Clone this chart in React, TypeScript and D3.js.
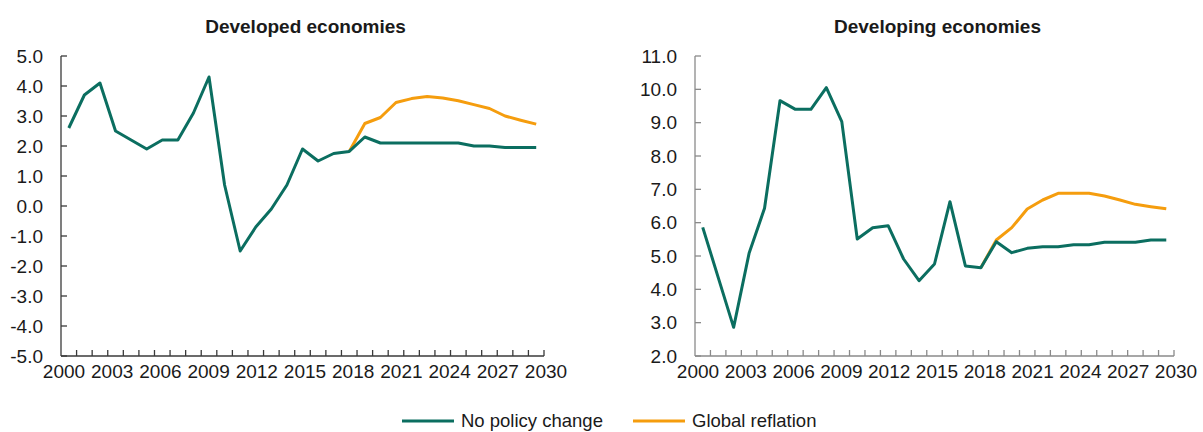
import React, { useEffect, useRef } from "react";
import * as d3 from "d3";

const years: number[] = d3.range(2000, 2031);
const tickYears: number[] = [2000, 2003, 2006, 2009, 2012, 2015, 2018, 2021, 2024, 2027, 2030];

const developedNoPolicy: number[] = [2.6, 3.7, 4.1, 2.5, 2.2, 1.9, 2.2, 2.2, 3.1, 4.3, 0.7, -1.5, -0.7, -0.1, 0.7, 1.9, 1.5, 1.75, 1.82, 2.3, 2.1, 2.1, 2.1, 2.1, 2.1, 2.1, 2.0, 2.0, 1.95, 1.95, 1.95];
const developedReflation: (number | null)[] = [null, null, null, null, null, null, null, null, null, null, null, null, null, null, null, null, null, null, 1.82, 2.75, 2.95, 3.45, 3.58, 3.65, 3.6, 3.51, 3.38, 3.25, 3.0, 2.86, 2.73];

const developingNoPolicy: number[] = [5.86, 4.36, 2.86, 5.08, 6.43, 9.66, 9.4, 9.4, 10.05, 9.03, 5.51, 5.85, 5.91, 4.91, 4.26, 4.76, 6.63, 4.7, 4.65, 5.43, 5.1, 5.23, 5.28, 5.28, 5.34, 5.34, 5.41, 5.41, 5.41, 5.48, 5.48];
const developingReflation: (number | null)[] = [null, null, null, null, null, null, null, null, null, null, null, null, null, null, null, null, null, null, 4.65, 5.48, 5.85, 6.41, 6.68, 6.88, 6.88, 6.88, 6.8, 6.68, 6.55, 6.48, 6.42];

const developedTicks: number[] = [-5, -4, -3, -2, -1, 0, 1, 2, 3, 4, 5];
const developingTicks: number[] = [2, 3, 4, 5, 6, 7, 8, 9, 10, 11];

const seriesNames: string[] = ["No policy change", "Global reflation"];
const TEAL = "#0b6e60";
const ORANGE = "#f59d0e";
const FONT = "'Liberation Sans', Arial, sans-serif";

export default function App() {
  const ref = useRef<SVGSVGElement>(null);

  useEffect(() => {
    document.body.style.margin = "0";
    const svg = d3.select(ref.current);
    svg.selectAll("*").remove();

    const panels = [
      { title: "Developed economies", x0: 61, x1: 544, domain: [-5, 5], ticks: developedTicks, noPolicy: developedNoPolicy, reflation: developedReflation, axisColor: "#3a3a3a" },
      { title: "Developing economies", x0: 695, x1: 1174, domain: [2, 11], ticks: developingTicks, noPolicy: developingNoPolicy, reflation: developingReflation, axisColor: "#8a8a8a" },
    ];
    const yTop = 56;
    const yBottom = 356;

    panels.forEach((p) => {
      const g = svg.append("g");
      const x = d3.scaleBand<number>().domain(years).range([p.x0, p.x1]);
      const labelX = d3.scaleLinear().domain([2000, 2030]).range([p.x0 + 3, p.x1 + 2]);
      const y = d3.scaleLinear().domain(p.domain).range([yBottom, yTop]);
      const cx = (yr: number) => (x(yr) as number) + x.bandwidth() / 2;

      // title
      g.append("text")
        .attr("x", (p.x0 + p.x1) / 2 + 3)
        .attr("y", 33)
        .attr("text-anchor", "middle")
        .attr("font-family", FONT)
        .attr("font-weight", "bold")
        .attr("font-size", 19)
        .attr("fill", "#1a1a1a")
        .text(p.title);

      // y axis
      g.append("line")
        .attr("x1", p.x0).attr("x2", p.x0)
        .attr("y1", y(p.domain[1])).attr("y2", y(p.domain[0]))
        .attr("stroke", p.axisColor).attr("stroke-width", 1.3);
      p.ticks.forEach((t) => {
        g.append("line")
          .attr("x1", p.x0).attr("x2", p.x0 + 6)
          .attr("y1", y(t)).attr("y2", y(t))
          .attr("stroke", p.axisColor).attr("stroke-width", 1.3);
        g.append("text")
          .attr("x", p.x0 - 18)
          .attr("y", y(t))
          .attr("dy", "0.35em")
          .attr("text-anchor", "end")
          .attr("font-family", FONT)
          .attr("font-size", 19)
          .attr("fill", "#1a1a1a")
          .text(d3.format(".1f")(t).replace("−", "-"));
      });

      // x axis
      g.append("line")
        .attr("x1", p.x0).attr("x2", p.x1)
        .attr("y1", yBottom).attr("y2", yBottom)
        .attr("stroke", p.axisColor).attr("stroke-width", 1.3);
      years.forEach((yr) => {
        const bx = (x(yr) as number) + x.bandwidth();
        g.append("line")
          .attr("x1", bx).attr("x2", bx)
          .attr("y1", yBottom).attr("y2", yBottom - 6)
          .attr("stroke", p.axisColor).attr("stroke-width", 1.3);
      });
      tickYears.forEach((yr) => {
        g.append("text")
          .attr("x", labelX(yr))
          .attr("y", yBottom + 21.5)
          .attr("text-anchor", "middle")
          .attr("font-family", FONT)
          .attr("font-size", 19)
          .attr("fill", "#1a1a1a")
          .text(String(yr));
      });

      const line = d3.line<number | null>()
        .defined((d) => d !== null)
        .x((_d, i) => cx(years[i]))
        .y((d) => y(d as number));

      g.append("path")
        .attr("d", line(p.reflation))
        .attr("fill", "none")
        .attr("stroke", ORANGE)
        .attr("stroke-width", 3)
        .attr("stroke-linejoin", "round");
      g.append("path")
        .attr("d", line(p.noPolicy))
        .attr("fill", "none")
        .attr("stroke", TEAL)
        .attr("stroke-width", 3)
        .attr("stroke-linejoin", "round");
    });

    // legend
    const legendItems = [
      { name: seriesNames[0], color: TEAL, x: 402 },
      { name: seriesNames[1], color: ORANGE, x: 633 },
    ];
    const ly = 421;
    legendItems.forEach((it) => {
      svg.append("line")
        .attr("x1", it.x).attr("x2", it.x + 52)
        .attr("y1", ly).attr("y2", ly)
        .attr("stroke", it.color).attr("stroke-width", 3);
      svg.append("text")
        .attr("x", it.x + 59)
        .attr("y", ly)
        .attr("dy", "0.33em")
        .attr("font-family", FONT)
        .attr("font-size", 18.5)
        .attr("fill", "#1a1a1a")
        .text(it.name);
    });
  }, []);

  return (
    <svg
      ref={ref}
      width={1203}
      height={432}
      style={{ position: "absolute", left: 0, top: 0, background: "#fff" }}
    />
  );
}
